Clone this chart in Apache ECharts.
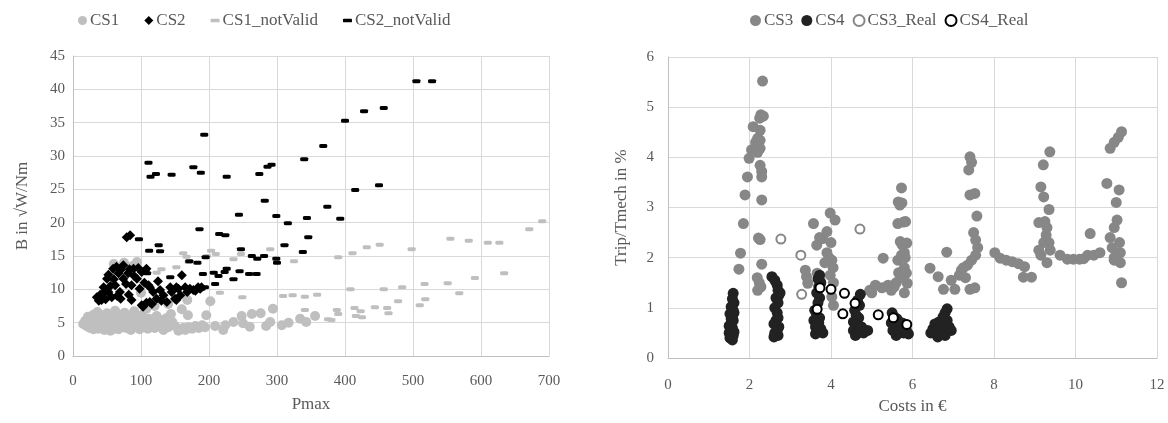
<!DOCTYPE html>
<html>
<head>
<meta charset="utf-8">
<script src="https://cdn.jsdelivr.net/npm/echarts@6/dist/echarts.min.js"></script>
<style>
  html, body { margin: 0; padding: 0; background: #fff; }
  #main { width: 1168px; height: 423px; }
</style>
</head>
<body>
<div id="main"></div>
<script>
// left panel: Pmax vs B
const cs1 = [[15,4.8],[18,5.3],[20,4.5],[22,5.9],[24,5.1],[25,4.2],[27,4.7],[28,5.6],[30,6.2],[30,4.0],[32,5.0],[33,4.4],[35,5.5],[36,6.6],[37,4.1],[38,4.9],[40,5.8],[41,4.3],[42,5.2],[44,6.1],[45,4.6],[46,3.9],[48,5.4],[49,4.2],[50,6.4],[51,5.0],[53,4.5],[54,5.7],[55,3.8],[57,4.8],[58,6.0],[60,5.3],[61,4.1],[62,6.8],[64,4.7],[65,5.5],[67,4.0],[68,6.2],[70,5.0],[71,4.4],[73,5.8],[75,4.8],[76,6.5],[78,4.2],[80,5.3],[82,4.6],[84,6.0],[85,3.9],[87,5.1],[89,4.5],[90,6.7],[92,5.6],[94,4.3],[96,5.0],[98,4.0],[100,5.5],[102,6.2],[104,4.4],[106,5.0],[108,7.1],[110,4.1],[112,5.6],[115,4.7],[118,5.3],[120,4.2],[123,6.0],[125,5.0],[128,4.4],[130,5.4],[133,3.9],[135,4.8],[138,5.7],[140,4.3],[144,6.3],[146,5.1],[150,4.5],[155,3.8],[158,4.0],[162,4.2],[165,3.9],[168,8.4],[169,6.1],[170,4.3],[175,4.1],[180,4.5],[185,4.2],[190,4.6],[194,4.3],[196,6.1],[202,8.2],[209,4.5],[221,3.9],[224,4.6],[236,5.1],[248,6.0],[250,4.9],[260,4.4],[263,6.3],[276,6.4],[284,4.5],[290,5.1],[294,7.1],[307,4.6],[317,5.0],[334,5.6],[343,5.1],[356,6.0],[60,13.8],[75,14.0],[88,13.5],[94,14.1],[55,12.0],[100,9.5],[120,7.5],[140,7.8],[160,7.0]];
const cs2 = [[79,17.8],[84,18.1],[59,13.1],[74,13.6],[89,13.1],[67,12.4],[50,11.6],[45,10.3],[35,8.8],[38,8.3],[52,9.6],[62,10.6],[74,11.6],[81,12.4],[57,8.8],[69,9.6],[86,10.6],[94,11.6],[101,12.6],[108,13.1],[98,10.1],[111,10.6],[86,8.4],[101,7.6],[113,8.1],[123,8.6],[133,9.1],[118,9.6],[143,10.3],[138,8.1],[152,8.4],[160,12.1],[155,10.1],[172,10.1],[184,10.3],[189,10.3],[42,8.4],[103,7.4],[150,8.6],[152,10.3],[165,10.3],[177,9.9],[187,10.1],[113,10.3],[128,9.9],[45,9.5],[48,8.5],[55,10.5],[60,11.5],[65,9.0],[70,8.6],[78,10.8],[82,9.2],[90,12.0],[96,13.2],[105,11.0],[108,8.0],[116,7.8],[125,11.2],[130,8.3],[145,9.6],[158,9.1],[168,9.6],[180,9.8],[40,9.2],[52,12.2],[64,13.4],[70,12.9],[83,13.0]];
const cs1NotValid = [[690,20.2],[671,19.0],[555,17.6],[582,17.3],[610,17.0],[627,17.0],[451,16.7],[432,16.3],[411,15.4],[498,16.0],[390,14.8],[634,12.4],[591,11.7],[551,10.9],[517,10.8],[568,9.4],[484,10.3],[457,10.0],[408,10.0],[478,8.2],[518,8.5],[510,7.6],[444,7.3],[462,7.2],[464,6.4],[414,7.2],[423,6.7],[416,6.0],[425,5.8],[388,6.9],[390,6.3],[380,5.4],[375,5.5],[341,8.9],[359,9.2],[341,6.9],[323,9.1],[309,9.0],[249,8.8],[216,9.5],[203,15.8],[210,15.3],[247,15.3],[290,16.0],[236,14.5],[325,14.2],[162,15.4],[167,14.9],[152,13.3],[130,13.0],[123,12.5],[170,14.1],[197,15.0],[95,14.0]];
const cs2NotValid = [[111,29.0],[114,26.9],[122,27.3],[145,27.2],[177,28.3],[188,27.5],[193,33.2],[226,26.9],[274,27.3],[286,28.4],[292,28.7],[340,29.5],[368,31.5],[400,35.3],[428,36.7],[457,37.2],[505,41.2],[528,41.2],[415,24.9],[450,25.6],[374,22.4],[393,20.6],[344,20.7],[282,23.3],[244,21.2],[299,21.0],[316,19.9],[186,19.0],[215,18.3],[224,18.1],[97,17.5],[346,17.8],[338,15.6],[126,16.6],[112,15.8],[128,15.7],[311,16.6],[247,16.0],[195,14.8],[263,15.0],[271,14.6],[281,15.0],[299,14.6],[300,14.0],[171,14.2],[183,14.0],[191,12.3],[207,12.5],[214,12.0],[223,12.6],[226,13.1],[245,12.7],[259,12.3],[270,12.3],[236,11.5],[209,10.8],[189,10.1],[194,10.3],[107,12.9],[109,12.4],[143,11.8]];

// right panel: Costs vs Trip/Tmech
const cs3 = [[2.32,5.52],[2.28,4.85],[2.34,4.82],[2.25,4.78],[2.09,4.61],[2.26,4.54],[2.2,4.38],[2.26,4.34],[2.26,4.18],[2.05,4.15],[1.99,3.98],[2.26,3.84],[2.3,3.72],[2.3,3.61],[1.95,3.61],[1.89,3.25],[2.3,3.15],[1.85,2.68],[2.22,2.39],[2.26,2.36],[1.78,2.09],[1.74,1.77],[2.3,1.87],[2.19,1.6],[2.24,1.5],[2.2,1.35],[2.28,1.42],[2.15,4.3],[2.2,4.1],
  [3.98,2.89],[4.1,2.75],[3.57,2.68],[3.9,2.52],[3.8,2.38],[3.72,2.4],[3.65,2.25],[4.0,2.3],[3.9,2.1],[4.02,1.95],[4.05,1.8],[3.98,1.65],[4.06,1.5],[4.02,1.22],[4.06,1.05],[3.37,1.75],[3.4,1.62],[3.43,1.49],[3.66,1.69],[3.73,1.55],[3.95,2.0],[3.85,1.9],
  [5.73,3.39],[5.65,3.11],[5.69,3.05],[5.64,2.68],[5.83,2.72],[5.7,2.32],[5.75,2.25],[5.28,1.99],[5.64,1.95],[5.73,2.05],[5.8,2.1],[5.66,1.7],[5.6,1.5],[5.48,1.35],[5.25,1.4],[5.09,1.45],[4.95,1.35],[5.0,1.3],[5.7,1.6],[5.8,1.3],[5.87,1.49],[5.85,1.69],[5.82,2.0],[5.86,2.29],[5.78,2.71],[5.74,3.09],[5.8,1.8],[5.4,1.45],[5.55,1.42],
  [6.43,1.79],[6.63,1.62],[6.84,2.11],[6.76,1.37],[6.95,1.55],[7.04,1.37],[7.41,4.01],[7.45,3.9],[7.38,3.75],[7.41,3.25],[7.53,3.28],[7.58,2.83],[7.5,2.5],[7.55,2.35],[7.6,2.2],[7.55,2.05],[7.45,1.95],[7.35,1.85],[7.2,1.75],[7.15,1.65],[7.3,1.6],[7.41,1.37],[7.53,1.4],[7.25,1.8],
  [8.02,2.1],[8.15,1.99],[8.3,1.95],[8.45,1.92],[8.6,1.88],[8.75,1.82],[8.72,1.61],[8.92,1.61],
  [9.37,4.11],[9.21,3.85],[9.15,3.41],[9.22,3.21],[9.35,2.96],[9.1,2.7],[9.25,2.72],[9.3,2.6],[9.28,2.45],[9.22,2.3],[9.15,2.05],[9.38,2.15],[9.35,2.3],[9.3,1.9],[9.1,2.15],
  [9.62,2.05],[9.8,1.97],[9.95,1.97],[10.1,1.97],[10.2,1.98],[10.3,2.05],[10.45,2.05],[10.6,2.1],[10.36,2.48],
  [10.77,3.48],[10.85,4.18],[10.95,4.3],[11.05,4.4],[11.13,4.51],[11.07,3.35],[11.0,3.1],[11.02,2.75],[10.95,2.6],[10.85,2.4],[11.08,2.3],[11.1,2.1],[10.95,2.0],[10.9,2.2],[11.13,1.5],[11.1,1.9],[10.95,1.95],[11.0,2.05]];
const cs4 = [[1.6,1.29],[1.58,1.18],[1.62,1.1],[1.55,1.02],[1.6,0.95],[1.52,0.88],[1.58,0.82],[1.6,0.75],[1.55,0.7],[1.5,0.64],[1.58,0.6],[1.55,0.55],[1.5,0.5],[1.6,0.45],[1.52,0.4],[1.58,0.36],[1.62,0.52],[1.62,0.9],[1.55,0.78],
  [2.55,1.62],[2.62,1.55],[2.68,1.45],[2.7,1.35],[2.72,1.25],[2.65,1.2],[2.7,1.1],[2.62,1.0],[2.68,0.9],[2.7,0.8],[2.65,0.75],[2.6,0.68],[2.72,0.62],[2.68,0.55],[2.62,0.5],[2.7,0.45],[2.6,0.42],[2.75,1.3],
  [3.72,1.65],[3.68,1.58],[3.75,1.5],[3.7,1.42],[3.65,1.3],[3.72,1.2],[3.68,1.1],[3.6,0.95],[3.65,0.85],[3.72,0.8],[3.58,0.75],[3.7,0.7],[3.62,0.62],[3.75,0.58],[3.68,0.52],[3.8,0.5],[3.62,0.48],
  [4.72,1.27],[4.65,1.15],[4.7,1.05],[4.58,0.95],[4.62,0.85],[4.68,0.8],[4.55,0.72],[4.62,0.65],[4.7,0.6],[4.55,0.55],[4.66,0.5],[4.8,0.5],[4.9,0.55],[4.75,0.62],[4.6,0.45],
  [5.5,0.9],[5.55,0.82],[5.62,0.78],[5.48,0.7],[5.58,0.65],[5.7,0.6],[5.52,0.55],[5.65,0.52],[5.78,0.5],[5.85,0.55],[5.9,0.48],[5.6,0.45],[5.75,0.7],
  [6.85,0.98],[6.8,0.9],[6.75,0.82],[6.85,0.75],[6.65,0.72],[6.55,0.68],[6.7,0.65],[6.9,0.62],[6.5,0.58],[6.6,0.55],[6.75,0.52],[6.45,0.5],[6.95,0.55],[6.62,0.42],[6.8,0.45]];
const cs3Real = [[2.77,2.37],[3.26,2.05],[3.28,1.27],[4.71,2.57]];
const cs4Real = [[3.73,1.4],[4.0,1.37],[4.33,1.29],[4.59,1.09],[3.66,0.97],[4.29,0.88],[5.16,0.86],[5.53,0.8],[5.86,0.67]];

const font = "'Liberation Serif', 'Times New Roman', serif";
const textColor = "#595959";
const dashPath = "path://M1,0 L9,0 Q10,0 10,1 L10,3 Q10,4 9,4 L1,4 Q0,4 0,3 L0,1 Q0,0 1,0 Z";

let axisCommon = {
  axisLine: { show: true, lineStyle: { color: "#bfbfbf", width: 1 } },
  axisTick: { show: false },
  splitLine: { show: true, lineStyle: { color: "#d9d9d9", width: 1 } },
  axisLabel: { color: textColor, fontFamily: font, fontSize: 15 },
  nameTextStyle: { color: textColor, fontFamily: font, fontSize: 17 },
};

let myChart = echarts.init(document.getElementById("main"));
myChart.setOption({
  animation: false,
  textStyle: { fontFamily: font },
  legend: [
    {
      left: 73, top: 7,
      itemWidth: 9, itemHeight: 9, itemGap: 25,
      textStyle: { color: textColor, fontFamily: font, fontSize: 17, padding: [0, 0, 0, -2] },
      data: [
        { name: "CS1", icon: "circle" },
        { name: "CS2", icon: "diamond" },
        { name: "CS1_notValid", icon: dashPath },
        { name: "CS2_notValid", icon: dashPath },
      ],
    },
    {
      left: 745, top: 7,
      itemWidth: 11, itemHeight: 11, itemGap: 8,
      textStyle: { color: textColor, fontFamily: font, fontSize: 17, padding: [0, 0, 0, -2] },
      data: [
        { name: "CS3", icon: "circle" },
        { name: "CS4", icon: "circle" },
        { name: "CS3_Real", icon: "emptyCircle" },
        { name: "CS4_Real", icon: "emptyCircle" },
      ],
    },
  ],
  grid: [
    { left: 73, right: 619, top: 56, bottom: 67 },
    { left: 668, right: 11, top: 57, bottom: 65 },
  ],
  xAxis: [
    Object.assign({}, axisCommon, {
      gridIndex: 0, type: "value", min: 0, max: 700, interval: 100,
      axisLabel: Object.assign({}, axisCommon.axisLabel, { margin: 18 }),
      name: "Pmax", nameLocation: "middle", nameGap: 40,
    }),
    Object.assign({}, axisCommon, {
      gridIndex: 1, type: "value", min: 0, max: 12, interval: 2,
      axisLabel: Object.assign({}, axisCommon.axisLabel, { margin: 20 }),
      name: "Costs in €", nameLocation: "middle", nameGap: 40,
    }),
  ],
  yAxis: [
    Object.assign({}, axisCommon, {
      gridIndex: 0, type: "value", min: 0, max: 45, interval: 5,
      name: "B in √W/Nm", nameLocation: "middle", nameGap: 42,
    }),
    Object.assign({}, axisCommon, {
      gridIndex: 1, type: "value", min: 0, max: 6, interval: 1,
      axisLabel: Object.assign({}, axisCommon.axisLabel, { margin: 14 }),
      name: "Trip/Tmech in %", nameLocation: "middle", nameGap: 38,
    }),
  ],
  series: [
    { name: "CS1", type: "scatter", xAxisIndex: 0, yAxisIndex: 0, symbol: "circle", symbolSize: 10,
      itemStyle: { color: "#bfbfbf", opacity: 1 }, data: cs1 },
    { name: "CS1_notValid", type: "scatter", xAxisIndex: 0, yAxisIndex: 0, symbol: "roundRect", symbolSize: [8, 4],
      itemStyle: { color: "#bfbfbf", opacity: 1 }, data: cs1NotValid },
    { name: "CS2_notValid", type: "scatter", xAxisIndex: 0, yAxisIndex: 0, symbol: "roundRect", symbolSize: [8, 4],
      itemStyle: { color: "#000000", opacity: 1 }, data: cs2NotValid },
    { name: "CS2", type: "scatter", xAxisIndex: 0, yAxisIndex: 0, symbol: "diamond", symbolSize: 10,
      itemStyle: { color: "#000000", opacity: 1 }, data: cs2 },
    { name: "CS3", type: "scatter", xAxisIndex: 1, yAxisIndex: 1, symbol: "circle", symbolSize: 11,
      itemStyle: { color: "#878787", opacity: 1 }, data: cs3 },
    { name: "CS4", type: "scatter", xAxisIndex: 1, yAxisIndex: 1, symbol: "circle", symbolSize: 11,
      itemStyle: { color: "#222222", opacity: 1 }, data: cs4 },
    { name: "CS3_Real", type: "scatter", xAxisIndex: 1, yAxisIndex: 1, symbol: "emptyCircle", symbolSize: 9,
      itemStyle: { color: "#878787", borderColor: "#878787", borderWidth: 2, opacity: 1 }, data: cs3Real },
    { name: "CS4_Real", type: "scatter", xAxisIndex: 1, yAxisIndex: 1, symbol: "emptyCircle", symbolSize: 9,
      itemStyle: { color: "#000000", borderColor: "#000000", borderWidth: 2, opacity: 1 }, data: cs4Real },
  ],
});
window.onresize = function () {
  myChart.resize();
};
</script>
</body>
</html>
